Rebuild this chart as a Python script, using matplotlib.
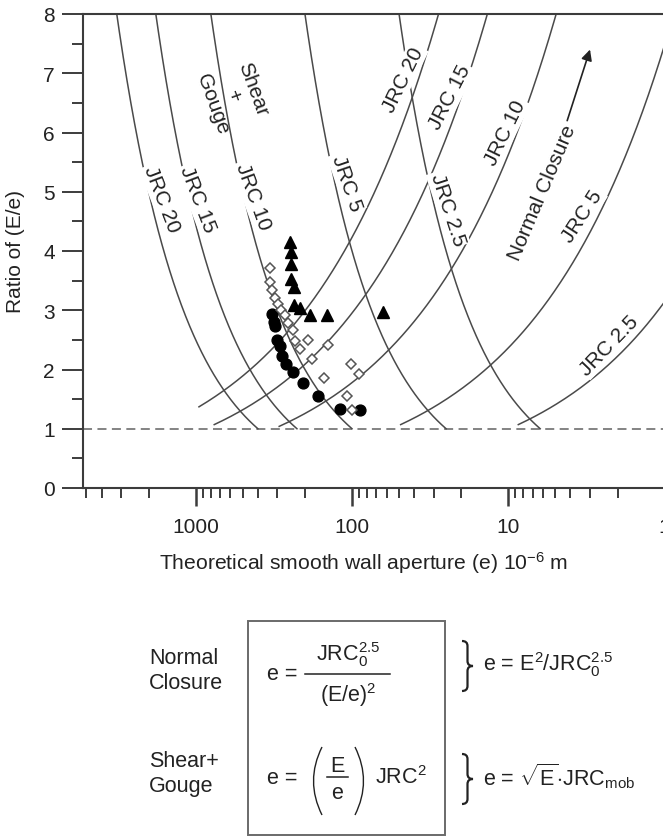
import numpy as np
import matplotlib
matplotlib.use('Agg')
import matplotlib.pyplot as plt
from matplotlib.patches import Rectangle, PathPatch
from matplotlib.path import Path
from matplotlib.lines import Line2D
from matplotlib.ticker import LogLocator, NullFormatter, MultipleLocator

plt.rcParams['font.family'] = ['Liberation Sans', 'DejaVu Sans']
plt.rcParams['mathtext.fontset'] = 'custom'
plt.rcParams['mathtext.rm'] = 'Liberation Sans'
plt.rcParams['mathtext.it'] = 'Liberation Sans'
plt.rcParams['mathtext.bf'] = 'Liberation Sans:bold'
plt.rcParams['mathtext.sf'] = 'Liberation Sans'

# ---------------- data ----------------
jrc_values = [20, 15, 10, 5, 2.5]
jrc_labels = ['JRC 20', 'JRC 15', 'JRC 10', 'JRC 5', 'JRC 2.5']
normal_start_ratio = [1.37, 1.07, 1.04, 1.07, 1.07]
shear_start_ratio = [1.0, 1.0, 1.0, 1.0, 1.0]
ratio_top = 8.0

tri_e = [249, 246, 246, 246, 235, 235, 215, 186, 145, 63.6]
tri_r = [4.15, 3.99, 3.78, 3.53, 3.39, 3.09, 3.03, 2.92, 2.92, 2.97]

circ_e = [325, 316, 311, 303, 289, 281, 264, 237, 206, 165, 118.5, 89]
circ_r = [2.94, 2.80, 2.74, 2.50, 2.40, 2.23, 2.09, 1.96, 1.77, 1.56, 1.33, 1.31]

diam_e = [337, 337, 325, 311, 297, 283, 268, 255, 238, 232, 214, 191, 180,
          151, 142, 101, 90, 108, 100.5]
diam_r = [3.71, 3.48, 3.34, 3.21, 3.11, 3.01, 2.92, 2.79, 2.67, 2.48, 2.35,
          2.50, 2.17, 1.86, 2.42, 2.10, 1.93, 1.55, 1.31]

x_major = [1000, 100, 10, 1]
x_major_labels = ['1000', '100', '10', '1']
y_major = [0, 1, 2, 3, 4, 5, 6, 7, 8]

# ---------------- figure ----------------
W, H = 663, 837
fig = plt.figure(figsize=(W / 100, H / 100), dpi=100)


def fx(x):
    return x / W


def fy(y):
    return 1 - y / H


ax = fig.add_axes([fx(82.7), fy(489), (664.6 - 82.7) / W, (489 - 15) / H])
ax.set_xscale('log')
ax.set_xlim(5285, 1)
ax.set_ylim(0, 8)

line_col = '#4a4a4a'
txt_col = '#222222'
spine_col = '#3c3c3c'

for jrc, r0 in zip(jrc_values, normal_start_ratio):
    r = np.linspace(r0, ratio_top, 300)
    ax.plot(jrc ** 2.5 / r ** 2, r, color=line_col, lw=1.1, zorder=2)
for jrc, r0 in zip(jrc_values, shear_start_ratio):
    r = np.linspace(r0, ratio_top, 300)
    ax.plot(r * jrc ** 2, r, color=line_col, lw=1.1, zorder=2)

ax.axhline(1, color='#7a7a7a', lw=1.3, ls=(0, (5, 3)), zorder=1)

# curve labels
lab_kw = dict(fontsize=15, color=txt_col, ha='center', va='center',
              rotation_mode='anchor', zorder=4,
              bbox=dict(facecolor='white', edgecolor='none', pad=1.0))
shear_lab_pos = [(1643, 4.88, -69), (967, 4.88, -69), (430, 4.93, -70),
                 (107.7, 5.16, -71), (24.3, 4.71, -72)]
for (xe, yr, rot), t in zip(shear_lab_pos, jrc_labels):
    ax.text(xe, yr, t, rotation=rot, **lab_kw)
normal_lab_pos = [(47.2, 6.90, 64), (23.6, 6.60, 63), (10.5, 6.01, 64),
                  (3.37, 4.59, 57), (2.25, 2.42, 46)]
for (xe, yr, rot), t in zip(normal_lab_pos, jrc_labels):
    ax.text(xe, yr, t, rotation=rot, **lab_kw)

ax.text(577, 6.62, 'Shear\n+\nGouge', rotation=-70, fontsize=15, color=txt_col,
        ha='center', va='center', multialignment='center',
        rotation_mode='anchor', linespacing=1.15, zorder=4)
ax.text(6.08, 5.0, 'Normal Closure', rotation=67, fontsize=15, color=txt_col,
        ha='center', va='center', rotation_mode='anchor', zorder=4)
ax.annotate('', xy=(3.0, 7.40), xytext=(4.2, 6.2),
            arrowprops=dict(arrowstyle='-|>', color='#222222', lw=1.2,
                            mutation_scale=16, shrinkA=0, shrinkB=0))

# data points
ax.plot(tri_e, tri_r, ls='none', marker='^', ms=8, mfc='black', mec='black',
        zorder=5)
ax.plot(circ_e, circ_r, ls='none', marker='o', ms=7.8, mfc='black', mec='black',
        zorder=5)
ax.plot(diam_e, diam_r, ls='none', marker='D', ms=5.3, mfc='white',
        mec='#555555', mew=1.1, zorder=6)

# axes styling
ax.spines['right'].set_visible(False)
for s in ['left', 'bottom', 'top']:
    ax.spines[s].set_linewidth(1.5)
    ax.spines[s].set_color(spine_col)

ax.set_xticks(x_major, labels=x_major_labels)
ax.xaxis.set_minor_locator(LogLocator(base=10, subs=np.arange(2, 10), numticks=50))
ax.xaxis.set_minor_formatter(NullFormatter())
ax.set_yticks(y_major)
ax.yaxis.set_minor_locator(MultipleLocator(0.5))

ax.tick_params(axis='both', which='both', direction='out', color=spine_col,
               labelcolor=txt_col, width=1.4, labelsize=15)
ax.tick_params(axis='y', which='major', length=15, pad=5)
ax.tick_params(axis='y', which='minor', length=8)
ax.tick_params(axis='x', which='major', length=13, pad=8, width=1.8)
ax.tick_params(axis='x', which='minor', length=7)

ax.set_xlabel(r'Theoretical smooth wall aperture (e) 10$^{-6}$ m', fontsize=15.2,
              color=txt_col, va='center')
ax.xaxis.set_label_coords((364 - 82.7) / (664.6 - 82.7), (489 - 563) / 474)
ax.set_ylabel('Ratio of (E/e)', fontsize=15, color=txt_col, va='center',
              ha='center')
ax.yaxis.set_label_coords((16 - 82.7) / (664.6 - 82.7), 0.5)

# ---------------- formula panel ----------------
fs = 15.5
fig.patches.append(Rectangle((fx(247.7), fy(836)), (445 - 247.7) / W,
                             (836 - 622.3) / H, transform=fig.transFigure,
                             fill=False, edgecolor='#6a6a6a', lw=1.4))

fig.text(fx(149), fy(671.5), 'Normal\nClosure', fontsize=fs, color=txt_col,
         ha='left', va='center', multialignment='left', linespacing=1.25)
fig.text(fx(149), fy(774.5), 'Shear+\nGouge', fontsize=fs, color=txt_col,
         ha='left', va='center', multialignment='left', linespacing=1.25)

# normal closure formula
fig.text(fx(267), fy(675), 'e =', fontsize=fs, color=txt_col,
         ha='left', va='center')
fig.text(fx(348), fy(669), r'JRC$_0^{2.5}$', fontsize=fs, color=txt_col,
         ha='center', va='bottom')
fig.lines.append(Line2D([fx(305), fx(390)], [fy(675), fy(675)],
                        transform=fig.transFigure, color=txt_col, lw=1.1))
fig.text(fx(348), fy(681), r'(E/e)$^2$', fontsize=fs, color=txt_col,
         ha='center', va='top')

# shear + gouge formula
fig.text(fx(267), fy(779), 'e =', fontsize=fs, color=txt_col,
         ha='left', va='center')
fig.text(fx(337.5), fy(772), 'E', fontsize=fs, color=txt_col,
         ha='center', va='baseline')
fig.lines.append(Line2D([fx(327), fx(348)], [fy(778), fy(778)],
                        transform=fig.transFigure, color=txt_col, lw=1.1))
fig.text(fx(337.5), fy(799), 'e', fontsize=fs, color=txt_col,
         ha='center', va='baseline')


def paren(xe, xm, yt, yb):
    verts = [(fx(xe), fy(yt)), (fx(xm), fy(0.5 * (yt + yb))), (fx(xe), fy(yb))]
    fig.patches.append(PathPatch(Path(verts, [Path.MOVETO, Path.CURVE3, Path.CURVE3]),
                                 transform=fig.transFigure, fill=False,
                                 edgecolor=txt_col, lw=1.0))


paren(322, 305, 748, 816)
paren(355, 372, 748, 816)
fig.text(fx(375), fy(784.5), r'JRC$^2$', fontsize=fs, color=txt_col,
         ha='left', va='baseline')

fig.text(fx(483), fy(671.5), r'e = E$^2$/JRC$_0^{2.5}$',
         fontsize=fs, color=txt_col, ha='left', va='baseline')
fig.text(fx(483), fy(785), r'e = $\sqrt{E}$$\cdot$JRC$_{\mathrm{mob}}$',
         fontsize=fs, color=txt_col, ha='left', va='baseline')


def brace(x0, yt, yb, w):
    yc = 0.5 * (yt + yb)
    r = 5.0
    xm = x0 + w / 2
    pts = [(x0, yt), (xm, yt), (xm, yt + r), (xm, yc - r), (xm, yc), (x0 + w, yc),
           (xm, yc), (xm, yc + r), (xm, yb - r), (xm, yb), (x0, yb)]
    codes = [Path.MOVETO, Path.CURVE3, Path.CURVE3, Path.LINETO, Path.CURVE3,
             Path.CURVE3, Path.CURVE3, Path.CURVE3, Path.LINETO, Path.CURVE3,
             Path.CURVE3]
    verts = [(fx(a), fy(b)) for a, b in pts]
    fig.patches.append(PathPatch(Path(verts, codes), transform=fig.transFigure,
                                 fill=False, edgecolor=txt_col, lw=1.6))


brace(462, 642, 692, 11)
brace(462, 755, 805, 11)

fig.savefig('out.png', dpi=100)
